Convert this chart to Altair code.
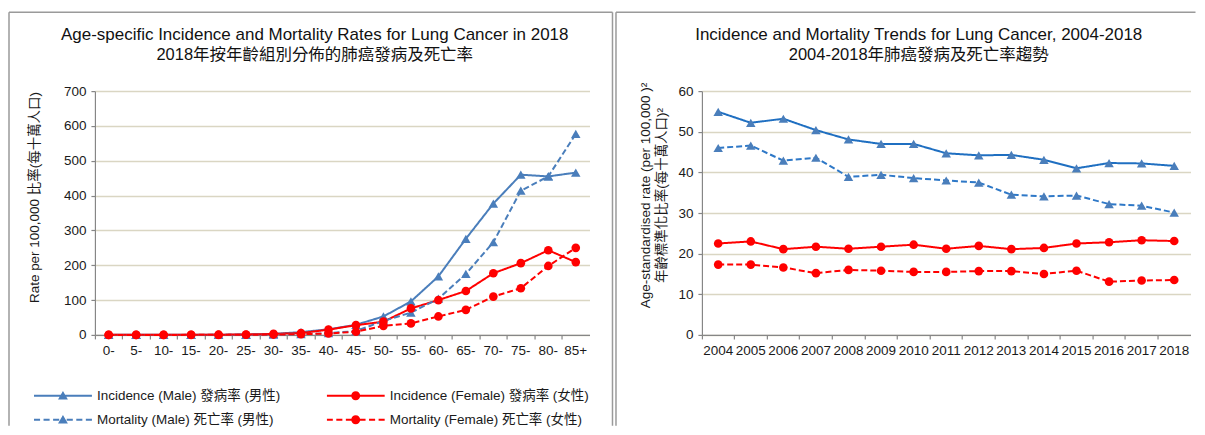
import altair as alt
import pandas as pd

FONT = "Liberation Sans, Arial, Noto Sans CJK TC, sans-serif"

# ---------------- data ----------------
ages = ["0-", "5-", "10-", "15-", "20-", "25-", "30-", "35-", "40-", "45-",
        "50-", "55-", "60-", "65-", "70-", "75-", "80-", "85+"]
inc_male_age = [0.1, 0.1, 0.1, 0.2, 0.4, 1.0, 3.0, 8.0, 16.0, 29.0,
                53.0, 96.0, 168.0, 276.0, 377.0, 460.0, 455.0, 466.0]
inc_female_age = [0.1, 0.1, 0.2, 0.3, 0.6, 1.2, 3.0, 5.0, 15.0, 28.0,
                  38.0, 76.0, 100.0, 126.0, 177.0, 206.0, 243.0, 209.0]
mort_male_age = [0.0, 0.0, 0.0, 0.0, 0.1, 0.2, 0.8, 2.0, 5.0, 11.0,
                 40.0, 64.0, 104.0, 175.0, 266.0, 414.0, 455.0, 577.0]
mort_female_age = [0.0, 0.0, 0.0, 0.1, 0.2, 0.4, 1.0, 2.0, 4.0, 9.0,
                   26.0, 33.0, 53.0, 72.0, 110.0, 134.0, 198.0, 250.0]

years = ["2004", "2005", "2006", "2007", "2008", "2009", "2010", "2011",
         "2012", "2013", "2014", "2015", "2016", "2017", "2018"]
inc_male_yr = [54.9, 52.2, 53.2, 50.4, 48.1, 47.0, 47.0, 44.7, 44.2, 44.3,
               43.1, 41.0, 42.3, 42.2, 41.6]
inc_female_yr = [22.5, 23.0, 21.1, 21.7, 21.2, 21.7, 22.2, 21.2, 21.9, 21.1,
                 21.4, 22.5, 22.8, 23.3, 23.1]
mort_male_yr = [46.0, 46.6, 42.9, 43.6, 38.9, 39.4, 38.6, 38.0, 37.5, 34.5,
                34.1, 34.3, 32.2, 31.8, 30.1]
mort_female_yr = [17.3, 17.3, 16.6, 15.2, 16.0, 15.8, 15.5, 15.5, 15.7, 15.7,
                  15.0, 15.8, 13.1, 13.4, 13.5]

series_names = ["Incidence (Male) 發病率 (男性)", "Incidence (Female) 發病率 (女性)",
                "Mortality (Male) 死亡率 (男性)", "Mortality (Female) 死亡率 (女性)"]
series_marker = ["tri", "dot", "tri", "dot"]

left_title = ["Age-specific Incidence and Mortality Rates for Lung Cancer in 2018",
              "2018年按年齡組別分佈的肺癌發病及死亡率"]
right_title = ["Incidence and Mortality Trends for Lung Cancer, 2004-2018",
               "2004-2018年肺癌發病及死亡率趨勢"]
left_ytitle = "Rate per 100,000 比率(每十萬人口)"
right_ytitle = ["Age-standardised rate (per 100,000 )²", "年齡標準化比率(每十萬人口)²"]

left_line_colors = ["#4a7ebb", "#ff0000", "#4a7ebb", "#ff0000"]
left_marker_colors = ["#4a7ebb", "#ff0000", "#4a7ebb", "#ff0000"]
right_line_colors = ["#1f6fc1", "#ff0000", "#2e78c7", "#ff0000"]
right_marker_colors = ["#4a7ebb", "#ff0000", "#4a7ebb", "#ff0000"]

# legend symbol shapes (line + marker), unit-square SVG paths
T = 0.035
SOLID = f"M-1,-{T}L1,-{T}L1,{T}L-1,{T}Z"
DASH_SEGS = [(-1, -0.79), (-0.67, -0.46), (-0.34, -0.13), (0.13, 0.34), (0.46, 0.67), (0.79, 1)]
DASHED = "".join(f"M{a},-{T}L{b},-{T}L{b},{T}L{a},{T}Z" for a, b in DASH_SEGS)
TRI = "M0,-0.17L0.17,0.13L-0.17,0.13Z"
DOT = "M-0.155,0A0.155,0.155,0,1,1,0.155,0A0.155,0.155,0,1,1,-0.155,0Z"
legend_paths = [SOLID + TRI, SOLID + DOT, DASHED + TRI, DASHED + DOT]


def long_df(cats, values, line_colors, marker_colors):
    rows = []
    for i, name in enumerate(series_names):
        for c, v in zip(cats, values[i]):
            rows.append({"cat": c, "series": name, "value": v,
                         "marker": series_marker[i],
                         "lcolor": line_colors[i], "mcolor": marker_colors[i]})
    return pd.DataFrame(rows)


one = pd.DataFrame({"k": [0]})
FRAME = dict(color="#9a9a9a", strokeWidth=1.5)


def panel(df, cats, ymax, ystep, plot_w, plot_h, title_lines, title_x,
          ytitle, ytitle_x, ytitle_y, legend_x, legend_y, col_pad,
          legend_colors, frame_right, frame_bottom, right_edge):
    x = alt.X("cat:N", bandPosition=0.5,
              scale=alt.Scale(type="band", domain=cats, paddingInner=0, paddingOuter=0),
              axis=alt.Axis(title=None, bandPosition=0,
                            labelAngle=0, ticks=True, tickSize=4, labelPadding=5,
                            grid=False, labelOverlap=False))
    y = alt.Y("value:Q",
              scale=alt.Scale(domain=[0, ymax], nice=False, zero=True),
              axis=alt.Axis(title=ytitle, values=list(range(0, ymax + 1, ystep)),
                            grid=True, gridColor="#dad6c3", gridWidth=1.5,
                            ticks=True, tickSize=4, labelPadding=5,
                            titleX=ytitle_x, titleY=ytitle_y, titleAngle=270,
                            titleAlign="center", titleBaseline="middle",
                            titleLineHeight=16))

    lines = alt.Chart(df).mark_line(strokeWidth=2).encode(
        x=x, y=y,
        color=alt.Color("lcolor:N", scale=None),
        strokeDash=alt.StrokeDash("series:N",
                                  scale=alt.Scale(domain=series_names,
                                                  range=[[1, 0], [1, 0], [6, 3], [6, 3]]),
                                  legend=None),
        detail="series:N",
    )
    tris = alt.Chart(df).transform_filter("datum.marker == 'tri'").mark_point(
        shape="triangle-up", filled=True, size=90, opacity=1).encode(
        x=x, y=y, color=alt.Color("mcolor:N", scale=None))
    dots = alt.Chart(df).transform_filter("datum.marker == 'dot'").mark_point(
        shape="circle", filled=True, size=75, opacity=1).encode(
        x=x, y=y, color=alt.Color("mcolor:N", scale=None))

    leg = alt.Legend(title=None, orient="none", legendX=legend_x, legendY=legend_y,
                     direction="horizontal", columns=2, columnPadding=col_pad,
                     rowPadding=8, symbolSize=3364, clipHeight=16, symbolStrokeWidth=0,
                     labelFontSize=13.5, labelFont=FONT, labelColor="#1a1a1a",
                     labelLimit=400, labelOffset=5, padding=0)
    legend_layer = alt.Chart(df).transform_filter("false").mark_point(
        filled=True, opacity=1).encode(
        x=x, y=y,
        color=alt.Color("series:N", scale=alt.Scale(domain=series_names, range=legend_colors),
                        legend=leg),
        shape=alt.Shape("series:N", scale=alt.Scale(domain=series_names, range=legend_paths),
                        legend=leg),
    )

    title1 = alt.Chart(one).mark_text(
        text=title_lines[0], fontSize=17, font=FONT, color="#111111",
        align="center", baseline="middle").encode(
        x=alt.value(title_x), y=alt.value(-56))
    title2 = alt.Chart(one).mark_text(
        text=title_lines[1], fontSize=16.5, font=FONT, color="#111111",
        align="center", baseline="middle").encode(
        x=alt.value(title_x), y=alt.value(-36))

    frame = [
        alt.Chart(one).mark_rule(**FRAME).encode(
            x=alt.value(-86), y=alt.value(-79), y2=alt.value(frame_bottom)),
        alt.Chart(one).mark_rule(**FRAME).encode(
            x=alt.value(-86), x2=alt.value(frame_right), y=alt.value(-79)),
    ]
    if right_edge:
        frame.append(alt.Chart(one).mark_rule(**FRAME).encode(
            x=alt.value(frame_right), y=alt.value(-79), y2=alt.value(frame_bottom)))
    return alt.layer(*frame, lines, tris, dots, legend_layer, title1, title2).properties(
        width=plot_w, height=plot_h)


left_df = long_df(ages, [inc_male_age, inc_female_age, mort_male_age, mort_female_age],
                  left_line_colors, left_marker_colors)
right_df = long_df(years, [inc_male_yr, inc_female_yr, mort_male_yr, mort_female_yr],
                   right_line_colors, right_marker_colors)

PH = 244
FB = 335

left = panel(left_df, ages, 700, 100, 495, PH, left_title, 220,
             left_ytitle, -60, 106, -61, 297, 46,
             ["#4a7ebb", "#ff0000", "#4a7ebb", "#ff0000"], 518, FB, True)
right = panel(right_df, years, 60, 10, 489, PH, right_title, 217,
              right_ytitle, -56, 104, -53, 294, 31,
              ["#1f6fc1", "#ff0000", "#2e78c7", "#ff0000"], 494, FB, False)

chart = alt.hconcat(left, right, spacing=1.5).properties(
    padding={"left": 0, "top": 3, "right": 0, "bottom": 0},
    background="white",
).configure_view(strokeWidth=0).configure_axis(
    domainColor="#868686", tickColor="#868686", domainWidth=1.2, tickWidth=1.2,
    labelFont=FONT, titleFont=FONT, labelFontSize=13.5, titleFontSize=13.5,
    labelColor="#1a1a1a", titleColor="#1a1a1a", titleFontWeight="normal",
)

chart.save("out.html", embed_options={"renderer": "svg", "actions": False})
